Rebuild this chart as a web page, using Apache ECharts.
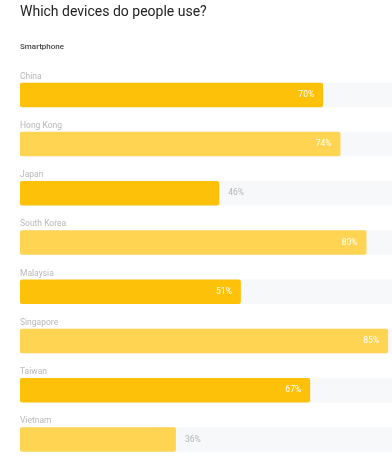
<!DOCTYPE html>
<html>
<head>
<meta charset="utf-8">
<script src="https://cdn.jsdelivr.net/npm/echarts@6/dist/echarts.min.js"></script>
<style>
html,body{margin:0;padding:0;background:#fff;}
#c{width:392px;height:464px;}
</style>
</head>
<body>
<div id="c"></div>
<script>
const title = 'Which devices do people use?';
const subtitle = 'Smartphone';
const categories = ['China','Hong Kong','Japan','South Korea','Malaysia','Singapore','Taiwan','Vietnam'];
const values = [70, 74, 46, 80, 51, 85, 67, 36];
const colors = ['#FEC10A', '#FED452'];

const axisMax = 85.9;
const chart = echarts.init(document.getElementById('c'));
const data = values.map((v, i) => {
  const outside = v < 50;
  return {
    value: v,
    itemStyle: { color: colors[i % 2] },
    label: outside
      ? { position: 'right', color: '#b5b5b5', distance: 9 }
      : { position: 'insideRight', color: '#ffffff', distance: 9 }
  };
});
chart.setOption({
  animation: false,
  title: [
    { text: title, left: 20, top: 5, padding: 0, textStyle: { fontFamily: 'Roboto', fontSize: 14, fontWeight: 'normal', color: '#222' } },
    { text: subtitle, left: 20, top: 42.5, padding: 0, textStyle: { fontFamily: 'Roboto', fontSize: 8, fontWeight: 500, color: '#444' } }
  ],
  grid: { left: 20, top: 70.3, right: 0, height: 395.2, containLabel: false },
  xAxis: { type: 'value', min: 0, max: axisMax, show: false },
  yAxis: {
    type: 'category', data: categories, inverse: true,
    axisLine: { show: false }, axisTick: { show: false },
    axisLabel: { show: false }
  },
  series: [{
    type: 'bar', data: data, barWidth: 24.5,
    showBackground: true,
    backgroundStyle: { color: '#f7f8fa' },
    itemStyle: { borderRadius: 2 },
    label: {
      show: true, formatter: '{c}%', fontSize: 8.5, fontFamily: 'Roboto'
    },
    z: 2
  }, {
    type: 'bar', data: categories.map(() => axisMax), barWidth: 24.5, barGap: '-100%',
    silent: true,
    itemStyle: { color: 'rgba(0,0,0,0)' },
    label: {
      show: true, position: 'insideTopLeft', distance: 0, offset: [0, -10.5],
      formatter: p => categories[p.dataIndex],
      color: '#b8b8b8', fontSize: 8.5, fontFamily: 'Roboto'
    },
    z: 3
  }]
});
</script>
</body>
</html>
